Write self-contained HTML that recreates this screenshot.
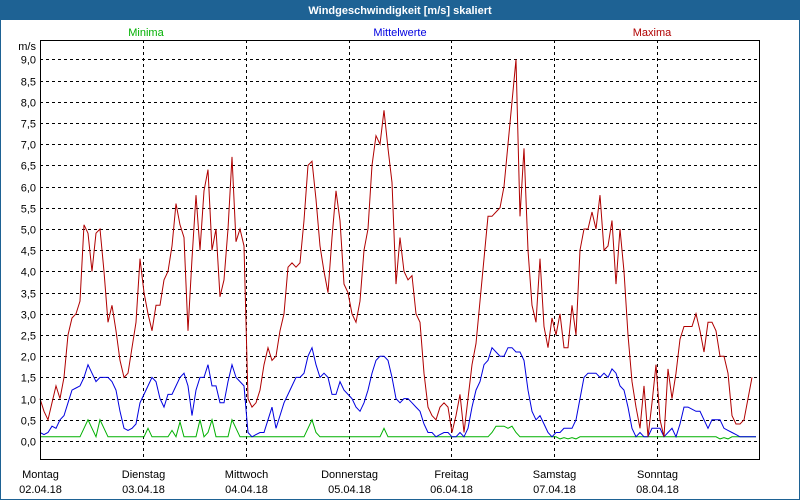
<!DOCTYPE html>
<html><head><meta charset="utf-8"><style>
body{margin:0;background:#fff}
svg{display:block;font-family:"Liberation Sans",sans-serif}
</style></head><body>
<svg id="chart" width="800" height="500" viewBox="0 0 800 500">
<rect x="0" y="0" width="800" height="500" fill="#fff"/>
<rect x="0" y="0" width="800" height="20" fill="#1e6294"/>
<text x="400" y="14" text-anchor="middle" fill="#fff" font-size="11" font-weight="bold">Windgeschwindigkeit [m/s] skaliert</text>
<rect x="0.5" y="0.5" width="799" height="499" fill="none" stroke="#1e6294"/>
<text x="146" y="36" text-anchor="middle" fill="#00b000" font-size="11">Minima</text>
<text x="400" y="36" text-anchor="middle" fill="#0000e0" font-size="11">Mittelwerte</text>
<text x="652" y="36" text-anchor="middle" fill="#b00000" font-size="11">Maxima</text>
<text x="36" y="50" text-anchor="end" font-size="11">m/s</text>
<g id="grid" shape-rendering="crispEdges"></g><g id="series"></g><g id="labels"></g>
<rect x="40.5" y="40.5" width="719" height="419" fill="none" stroke="#000" shape-rendering="crispEdges"/>
</svg>
<script>
const dayNames=["Montag","Dienstag","Mittwoch","Donnerstag","Freitag","Samstag","Sonntag"];
const dates=["02.04.18","03.04.18","04.04.18","05.04.18","06.04.18","07.04.18","08.04.18"];
const yTicks=[0,0.5,1,1.5,2,2.5,3,3.5,4,4.5,5,5.5,6,6.5,7,7.5,8,8.5,9];
const samplesPerWeek=180;
const maxima=[1.0,0.7,0.5,0.9,1.3,1.0,1.5,2.5,2.9,3.0,3.3,5.1,4.9,4.0,4.9,5.0,4.0,2.8,3.2,2.6,1.9,1.5,1.6,2.2,2.8,4.3,3.5,3.0,2.6,3.2,3.2,3.8,4.0,4.6,5.6,5.1,4.8,2.6,4.3,5.8,4.5,5.9,6.4,4.5,5.0,3.4,3.8,5.0,6.7,4.7,5.0,4.6,1.0,0.8,0.9,1.2,1.8,2.2,1.9,2.0,2.6,3.0,4.1,4.2,4.1,4.2,5.2,6.5,6.6,5.7,4.6,4.0,3.5,4.8,5.9,5.2,3.7,3.5,3.0,2.8,3.3,4.5,5.0,6.5,7.2,7.0,7.8,6.9,6.1,3.7,4.8,4.0,3.8,3.9,3.0,2.8,1.6,0.8,0.6,0.5,0.8,0.9,0.8,0.2,0.6,1.1,0.2,1.0,1.8,2.3,3.3,4.3,5.3,5.3,5.4,5.5,6.0,7.0,8.0,9.0,5.3,6.9,4.5,3.2,2.8,4.3,2.7,2.2,2.9,2.5,3.0,2.2,2.2,3.2,2.5,4.5,5.0,5.0,5.4,5.0,5.8,4.5,4.6,5.2,3.7,5.0,4.0,2.5,1.4,0.8,0.3,1.3,0.1,0.9,1.8,0.5,0.1,1.7,1.0,1.6,2.4,2.7,2.7,2.7,3.0,2.6,2.1,2.8,2.8,2.6,2.0,2.0,1.6,0.6,0.4,0.4,0.5,1.0,1.5];
const mittelwerte=[0.2,0.15,0.2,0.35,0.3,0.5,0.6,0.9,1.2,1.25,1.3,1.5,1.8,1.6,1.4,1.5,1.5,1.5,1.4,1.2,0.7,0.3,0.25,0.3,0.4,0.9,1.1,1.3,1.5,1.4,1.0,0.8,1.1,1.1,1.3,1.5,1.6,1.3,0.6,1.2,1.5,1.5,1.8,1.3,1.3,0.9,0.9,1.4,1.8,1.5,1.4,1.3,0.2,0.1,0.15,0.2,0.2,0.5,0.8,0.3,0.6,0.9,1.1,1.3,1.5,1.5,1.6,2.0,2.2,1.8,1.5,1.6,1.5,1.1,1.1,1.4,1.2,1.1,1.0,0.8,0.7,0.9,1.2,1.6,1.9,2.0,2.0,1.9,1.5,1.0,0.9,1.0,1.0,0.9,0.8,0.7,0.4,0.2,0.2,0.1,0.15,0.2,0.2,0.1,0.1,0.2,0.1,0.3,0.8,1.2,1.4,1.8,1.9,2.2,2.1,2.0,2.0,2.2,2.2,2.1,2.1,1.9,1.2,0.7,0.5,0.6,0.4,0.2,0.1,0.2,0.2,0.3,0.3,0.3,0.5,1.0,1.5,1.6,1.6,1.6,1.5,1.6,1.5,1.7,1.6,1.3,1.2,0.8,0.3,0.1,0.2,0.1,0.1,0.3,0.3,0.3,0.1,0.2,0.3,0.1,0.4,0.8,0.8,0.75,0.7,0.7,0.5,0.3,0.5,0.5,0.5,0.3,0.25,0.2,0.15,0.1,0.1,0.1,0.1,0.1];
const minima=[0.1,0.1,0.1,0.1,0.1,0.1,0.1,0.1,0.1,0.1,
0.1,0.3,0.5,0.3,0.1,0.5,0.3,0.1,0.1,0.1,
0.1,0.1,0.1,0.1,0.1,0.1,0.1,0.3,0.1,0.1,
0.1,0.1,0.1,0.25,0.1,0.45,0.1,0.1,0.1,0.1,
0.5,0.1,0.2,0.5,0.1,0.1,0.1,0.1,0.5,0.3,
0.1,0.1,0.1,0.1,0.1,0.1,0.1,0.1,0.1,0.1,
0.1,0.1,0.1,0.1,0.1,0.1,0.1,0.3,0.5,0.2,
0.1,0.1,0.1,0.1,0.1,0.1,0.1,0.1,0.1,0.1,
0.1,0.1,0.1,0.1,0.1,0.1,0.3,0.1,0.1,0.1,
0.1,0.1,0.1,0.1,0.1,0.1,0.1,0.1,0.1,0.1,
0.1,0.1,0.1,0.1,0.1,0.1,0.1,0.1,0.1,0.1,
0.1,0.1,0.1,0.2,0.35,0.35,0.35,0.3,0.35,0.2,
0.1,0.1,0.1,0.1,0.1,0.1,0.1,0.1,0.1,0.1,
0.05,0.08,0.05,0.08,0.05,0.1,0.1,0.1,0.1,0.1,
0.1,0.1,0.1,0.1,0.1,0.1,0.1,0.1,0.1,0.1,
0.1,0.1,0.1,0.1,0.1,0.1,0.1,0.1,0.1,0.1,
0.1,0.1,0.1,0.1,0.1,0.1,0.1,0.1,0.1,0.1,
0.05,0.08,0.05,0.1,0.1,0.1,0.1,0.1,0.1,0.1];

const NS="http://www.w3.org/2000/svg";
const X0=40,X1=760,Y0=441,YSTEP=42.4;
function xDay(d){return X0+d*(X1-X0)/7;}
function xIdx(i){return X0+i*(X1-X0)/samplesPerWeek;}
function yVal(v){return Y0-v*YSTEP;}
function mk(tag,attrs,parent){const e=document.createElementNS(NS,tag);for(const k in attrs)e.setAttribute(k,attrs[k]);parent.appendChild(e);return e;}
const grid=document.getElementById('grid'),series=document.getElementById('series'),labels=document.getElementById('labels');
yTicks.forEach(v=>{
  const y=Math.round(yVal(v))+0.5;
  const l=mk('line',{x1:X0,x2:X1,y1:y,y2:y,stroke:'#000','stroke-dasharray':'3,3'},grid);
  
  
  const t=mk('text',{x:36,y:y+4,'text-anchor':'end','font-size':'11'},labels);
  t.textContent=v.toFixed(1).replace('.',',');
  
  
});
dayNames.forEach((n,d)=>{
  const x=Math.round(xDay(d))+0.5;
  if(d>0){
    const l=mk('line',{x1:x,x2:x,y1:40,y2:460,stroke:'#000','stroke-dasharray':'3,3'},grid);
    
    
  }
  const t=mk('text',{x:x,y:478,'text-anchor':'middle','font-size':'11'},labels);
  t.textContent=n;
  
  
  const t2=mk('text',{x:x,y:493,'text-anchor':'middle','font-size':'11'},labels);
  t2.textContent=dates[d];
  
  
});
function line(arr,color,name){
  const pts=arr.map((v,i)=>xIdx(i).toFixed(1)+','+yVal(v).toFixed(1)).join(' ');
  const p=mk('polyline',{points:pts,fill:'none',stroke:color,'stroke-width':'1'},series);
  
  
}
line(minima,'#00b000','minima-line');
line(mittelwerte,'#0000e0','mittelwerte-line');
line(maxima,'#b00000','maxima-line');
</script>
</body></html>
